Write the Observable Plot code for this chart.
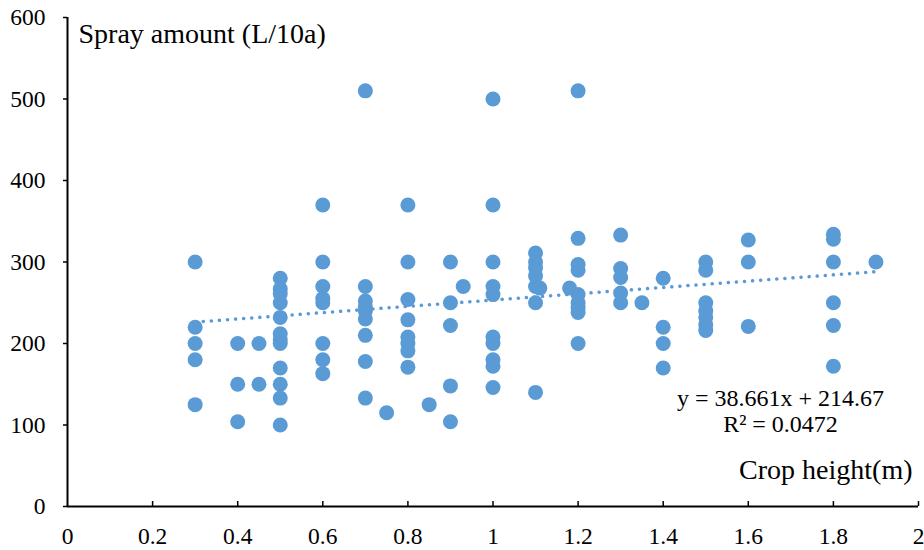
<!DOCTYPE html>
<html><head><meta charset="utf-8">
<script src="https://cdn.jsdelivr.net/npm/d3@7"></script>
<script src="https://cdn.jsdelivr.net/npm/@observablehq/plot@0.6"></script>
<style>
body{margin:0;background:#fff}
#chart{width:924px;height:550px}
</style>
</head><body><div id="chart"></div>
<script>
const cropHeight = [
  0.3,0.3,0.3,0.3,0.3,
  0.4,0.4,0.4,
  0.45,0.45,
  0.5,0.5,0.5,0.5,0.5,0.5,0.5,0.5,0.5,0.5,0.5,0.5,
  0.6,0.6,0.6,0.6,0.6,0.6,0.6,0.6,
  0.7,0.7,0.7,0.7,0.7,0.7,0.7,0.7,0.7,
  0.75,
  0.8,0.8,0.8,0.8,0.8,0.8,0.8,0.8,
  0.85,
  0.9,0.9,0.9,0.9,0.9,
  0.93,
  1,1,1,1,1,1,1,1,1,1,
  1.1,1.1,1.1,1.1,1.1,1.1,1.1,
  1.11,
  1.18,
  1.2,1.2,1.2,1.2,1.2,1.2,1.2,1.2,1.2,
  1.3,1.3,1.3,1.3,1.3,
  1.35,
  1.4,1.4,1.4,1.4,
  1.5,1.5,1.5,1.5,1.5,1.5,1.5,
  1.6,1.6,1.6,
  1.8,1.8,1.8,1.8,1.8,1.8,
  1.9
];
const sprayAmount = [
  300,220,200,180,125,
  200,150,104,
  200,150,
  280,267,261,250,232,212,205,200,170,150,133,100,
  370,300,270,255,250,200,180,163,
  510,270,252,245,240,230,210,178,133,
  115,
  370,300,254,229,208,200,191,171,
  125,
  300,250,222,148,104,
  270,
  500,370,300,270,260,208,200,180,172,146,
  311,300,293,283,270,250,140,
  268,
  268,
  510,329,297,290,260,250,244,238,200,
  333,292,281,262,250,
  250,
  280,220,200,170,
  300,290,250,240,232,223,216,
  327,300,221,
  334,328,300,250,222,172,
  300
];
const xTicks = [0,0.2,0.4,0.6,0.8,1,1.2,1.4,1.6,1.8,2];
const xTickLabels = ["0","0.2","0.4","0.6","0.8","1","1.2","1.4","1.6","1.8","2"];
const yTicks = [0,100,200,300,400,500,600];
const yTickLabels = ["0","100","200","300","400","500","600"];
const trendSlope = 38.661;
const trendIntercept = 214.67;
const trendLabel = "y = 38.661x + 214.67";
const r2Label = "R² = 0.0472";
const xTitle = "Crop height(m)";
const yTitle = "Spray amount (L/10a)";

const blue = "#5B9BD5";
const serif = "Liberation Serif";
const points = cropHeight.map((h, i) => ({h, a: sprayAmount[i]}));
const trend = [d3.min(cropHeight), d3.max(cropHeight)].map(h => ({h, a: trendSlope * h + trendIntercept}));

const chart = Plot.plot({
  width: 924, height: 550,
  marginLeft: 67, marginRight: 6, marginTop: 17, marginBottom: 44,
  x: {domain: [0, 2], axis: null},
  y: {domain: [0, 600], axis: null},
  style: {fontFamily: serif, color: "#000", background: "#fff"},
  marks: [
    Plot.text(xTicks, {x: d => d, y: 0, text: (d, i) => xTickLabels[i], dy: 29.5, fontSize: 23.5, fontFamily: serif, fill: "#000"}),
    Plot.text(yTicks, {x: 0, y: d => d, text: (d, i) => yTickLabels[i], dx: -22, textAnchor: "end", fontSize: 23.5, fontFamily: serif, fill: "#000"}),
    Plot.dot(points, {x: "h", y: "a", r: 7.5, fill: blue}),
    Plot.line(trend, {x: "h", y: "a", stroke: blue, strokeWidth: 3.5, strokeDasharray: "0.1 8", strokeLinecap: "round"}),
    Plot.ruleX(xTicks.filter(d => d > 0), {x: d => d, y1: 0, y2: 0, insetTop: -5, stroke: "#000", strokeWidth: 1.5}),
    Plot.ruleY(yTicks, {y: d => d, x1: 0, x2: 0, insetLeft: -4, stroke: "#000", strokeWidth: 1.5}),
    Plot.ruleX([0], {stroke: "#000", strokeWidth: 2}),
    Plot.ruleY([0], {stroke: "#000", strokeWidth: 2}),
    Plot.text([yTitle], {text: d => d, frameAnchor: "top-left", textAnchor: "start", dx: 11, dy: 6, fontSize: 28, fontFamily: serif, fill: "#000"}),
    Plot.text([xTitle], {text: d => d, frameAnchor: "bottom-right", textAnchor: "end", dx: -6, dy: -28, fontSize: 28, fontFamily: serif, fill: "#000"}),
    Plot.text([trendLabel], {text: d => d, frameAnchor: "bottom-right", textAnchor: "middle", dx: -138, dy: -100.4, fontSize: 24, fontFamily: serif, fill: "#000"}),
    Plot.text([r2Label], {text: d => d, frameAnchor: "bottom-right", textAnchor: "middle", dx: -138, dy: -74.4, fontSize: 24, fontFamily: serif, fill: "#000"})
  ]
});
document.getElementById("chart").appendChild(chart);
</script>
</body></html>
